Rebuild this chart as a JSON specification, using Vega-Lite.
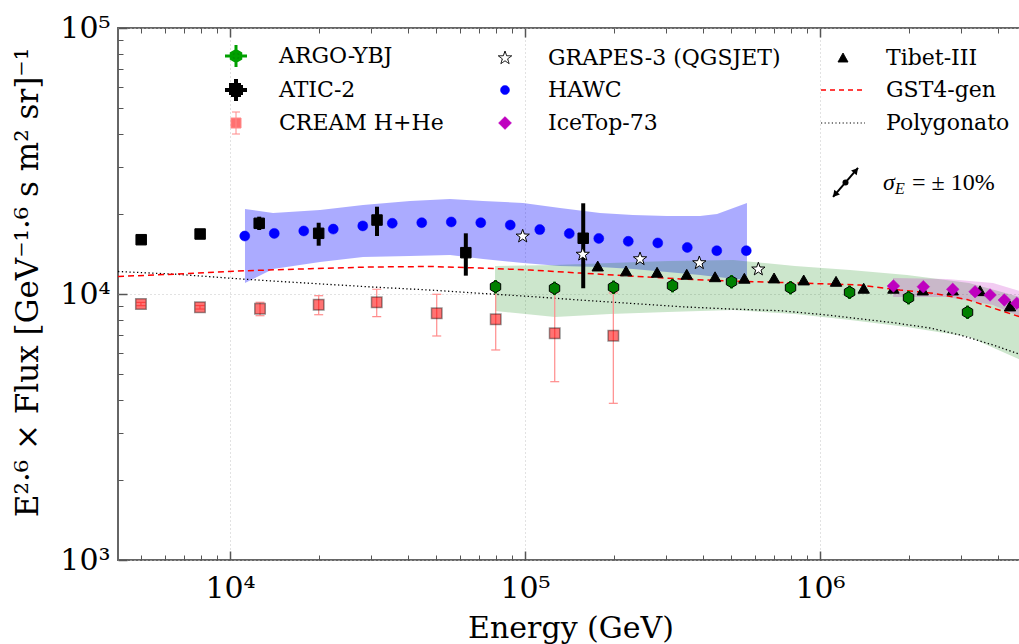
{
  "$schema": "https://vega.github.io/schema/vega-lite/v6.json",
  "autosize": {"type": "none"},
  "padding": {"left": 118, "top": 28, "right": 0, "bottom": 84},
  "width": 905,
  "height": 532,
  "background": "#ffffff",
  "config": {"view": {"stroke": "#666666", "strokeWidth": 2}, "font": "DejaVu Serif"},
  "resolve": {"axis": {"x": "independent", "y": "independent"}},
  "layer": [
    {
      "data": {"values": [
        {"E": 11240, "lo": 11000, "hi": 20870}, {"E": 13990, "lo": 12420, "hi": 20160},
        {"E": 20190, "lo": 13190, "hi": 20690}, {"E": 28240, "lo": 13770, "hi": 21610},
        {"E": 40760, "lo": 13900, "hi": 22370}, {"E": 55690, "lo": 14020, "hi": 22760},
        {"E": 72050, "lo": 13540, "hi": 22370}, {"E": 98450, "lo": 13080, "hi": 21990},
        {"E": 131450, "lo": 12740, "hi": 21050}, {"E": 179600, "lo": 12630, "hi": 20160},
        {"E": 232300, "lo": 12420, "hi": 19820}, {"E": 302900, "lo": 12100, "hi": 19640},
        {"E": 391900, "lo": 11790, "hi": 19640}, {"E": 447600, "lo": 11580, "hi": 19990},
        {"E": 565400, "lo": 11290, "hi": 21990}
      ]},
      "mark": {"type": "area", "color": "#0000ff", "fillOpacity": 0.33, "clip": true},
      "encoding": {
        "x": {"field": "E", "type": "quantitative", "scale": {"type": "log", "domain": [4172, 4875000], "nice": false},
          "axis": {"orient": "bottom", "values": [10000, 100000, 1000000],
            "labelExpr": "datum.value >= 500000 ? '10⁶' : datum.value >= 50000 ? '10⁵' : '10⁴'",
            "labelFont": "DejaVu Serif", "labelFontSize": 30, "labelColor": "#000000", "labelBaseline": "alphabetic",
            "labelPadding": 46, "labelFlush": false, "labelOverlap": false,
            "tickSize": -9, "tickColor": "#555555", "tickWidth": 1.5, "domain": false,
            "grid": true, "gridColor": "#c4c4c4", "gridDash": [1, 3], "gridWidth": 1,
            "title": "Energy (GeV)", "titleFont": "DejaVu Serif", "titleFontSize": 30, "titleFontWeight": "normal",
            "titleColor": "#000000", "titleBaseline": "alphabetic", "titleY": 77}},
        "y": {"field": "lo", "type": "quantitative", "scale": {"type": "log", "domain": [1000, 100000], "nice": false},
          "axis": {"orient": "left", "values": [1000, 10000, 100000],
            "labelExpr": "datum.value >= 50000 ? '10⁵' : datum.value >= 5000 ? '10⁴' : '10³'",
            "labelFont": "DejaVu Serif", "labelFontSize": 30, "labelColor": "#000000", "labelBaseline": "middle",
            "labelPadding": 17, "labelFlush": false, "labelOverlap": false,
            "tickSize": -9, "tickColor": "#555555", "tickWidth": 1.5, "domain": false,
            "grid": true, "gridColor": "#c4c4c4", "gridDash": [1, 3], "gridWidth": 1,
            "title": "E²·⁶ × Flux [GeV⁻¹·⁶ s m² sr]⁻¹", "titleFont": "DejaVu Serif", "titleFontSize": 31,
            "titleFontWeight": "normal", "titleColor": "#000000", "titleBaseline": "alphabetic",
            "titleX": -81, "titleY": 254}},
        "y2": {"field": "hi"}
      }
    },
    {
      "data": {"values": [
        {"E": 79120, "lo": 8633, "hi": 12740}, {"E": 126400, "lo": 8195, "hi": 12850},
        {"E": 194200, "lo": 8408, "hi": 13080}, {"E": 305200, "lo": 8556, "hi": 13310},
        {"E": 507200, "lo": 8705, "hi": 13420}, {"E": 822900, "lo": 8408, "hi": 12740},
        {"E": 1264000, "lo": 7986, "hi": 12310}, {"E": 1972000, "lo": 7515, "hi": 11790},
        {"E": 3200000, "lo": 6892, "hi": 11000}, {"E": 4875000, "lo": 5600, "hi": 9661}
      ]},
      "mark": {"type": "area", "color": "#008000", "fillOpacity": 0.2, "clip": true},
      "encoding": {
        "x": {"field": "E", "type": "quantitative", "scale": {"type": "log", "domain": [4172, 4875000], "nice": false},
          "axis": {"orient": "bottom", "values": [5000, 6000, 7000, 8000, 9000, 20000, 30000, 40000, 50000, 60000, 70000, 80000, 90000, 200000, 300000, 400000, 500000, 600000, 700000, 800000, 900000, 2000000, 3000000, 4000000],
            "labels": false, "tickSize": -5, "tickColor": "#555555", "tickWidth": 1, "domain": false, "grid": false, "title": null}},
        "y": {"field": "lo", "type": "quantitative", "scale": {"type": "log", "domain": [1000, 100000], "nice": false},
          "axis": {"orient": "left", "values": [2000, 3000, 4000, 5000, 6000, 7000, 8000, 9000, 20000, 30000, 40000, 50000, 60000, 70000, 80000, 90000],
            "labels": false, "tickSize": -5, "tickColor": "#555555", "tickWidth": 1, "domain": false, "grid": false, "title": null}},
        "y2": {"field": "hi"}
      }
    },
    {
      "data": {"values": [
        {"E": 1769000, "lo": 9743, "hi": 11490}, {"E": 2695000, "lo": 9743, "hi": 11390},
        {"E": 3858000, "lo": 9091, "hi": 11000}, {"E": 4875000, "lo": 8125, "hi": 10170}
      ]},
      "mark": {"type": "area", "color": "#bf00bf", "fillOpacity": 0.2, "clip": true},
      "encoding": {
        "x": {"field": "E", "type": "quantitative", "scale": {"type": "log", "domain": [4172, 4875000], "nice": false},
          "axis": {"orient": "top", "values": [10000, 100000, 1000000],
            "labels": false, "tickSize": -9, "tickColor": "#555555", "tickWidth": 1.5, "domain": false, "grid": false, "title": null}},
        "y": {"field": "lo", "type": "quantitative", "scale": {"type": "log", "domain": [1000, 100000], "nice": false}, "axis": null},
        "y2": {"field": "hi"}
      }
    },
    {
      "data": {"values": [
        {"E": 4173, "F": 12150}, {"E": 6612, "F": 11860}, {"E": 11240, "F": 11360}, {"E": 18670, "F": 10970},
        {"E": 31500, "F": 10600}, {"E": 47640, "F": 10350}, {"E": 70390, "F": 10060}, {"E": 103970, "F": 9786},
        {"E": 153600, "F": 9493}, {"E": 226900, "F": 9226}, {"E": 335300, "F": 8960}, {"E": 495300, "F": 8783},
        {"E": 731700, "F": 8655}, {"E": 1056000, "F": 8338}, {"E": 1769000, "F": 7802}, {"E": 2360000, "F": 7451},
        {"E": 2983000, "F": 7014}, {"E": 3858000, "F": 6432}, {"E": 4727000, "F": 5947}
      ]},
      "mark": {"type": "line", "color": "#000000", "strokeWidth": 1.3, "strokeDash": [1.3, 2.5], "clip": true},
      "encoding": {
        "x": {"field": "E", "type": "quantitative", "scale": {"type": "log", "domain": [4172, 4875000], "nice": false},
          "axis": {"orient": "top", "values": [5000, 6000, 7000, 8000, 9000, 20000, 30000, 40000, 50000, 60000, 70000, 80000, 90000, 200000, 300000, 400000, 500000, 600000, 700000, 800000, 900000, 2000000, 3000000, 4000000],
            "labels": false, "tickSize": -5, "tickColor": "#555555", "tickWidth": 1, "domain": false, "grid": false, "title": null}},
        "y": {"field": "F", "type": "quantitative", "scale": {"type": "log", "domain": [1000, 100000], "nice": false}, "axis": null}
      }
    },
    {
      "data": {"values": [
        {"E": 4173, "F": 11630}, {"E": 6612, "F": 11890}, {"E": 11240, "F": 12230}, {"E": 18670, "F": 12450},
        {"E": 29830, "F": 12630}, {"E": 47640, "F": 12690}, {"E": 70390, "F": 12520}, {"E": 103970, "F": 12310},
        {"E": 153600, "F": 11990}, {"E": 226900, "F": 11690}, {"E": 335300, "F": 11390}, {"E": 495300, "F": 11190},
        {"E": 731700, "F": 11050}, {"E": 1081000, "F": 10900}, {"E": 1366000, "F": 10810}, {"E": 1867000, "F": 10350},
        {"E": 2416000, "F": 10060}, {"E": 3150000, "F": 9535}, {"E": 3858000, "F": 8859}, {"E": 4727000, "F": 8229}
      ]},
      "mark": {"type": "line", "color": "#ff0000", "strokeWidth": 1.5, "strokeDash": [6, 4], "clip": true},
      "encoding": {
        "x": {"field": "E", "type": "quantitative", "scale": {"type": "log", "domain": [4172, 4875000], "nice": false}, "axis": null},
        "y": {"field": "F", "type": "quantitative", "scale": {"type": "log", "domain": [1000, 100000], "nice": false}, "axis": null}
      }
    },
    {
      "data": {"values": [
        {"E": 4990, "F": 9170, "lo": 9040, "hi": 9300}, {"E": 7910, "F": 8913, "lo": 8780, "hi": 9050},
        {"E": 12640, "F": 8805, "lo": 8287, "hi": 9307}, {"E": 19980, "F": 9116, "lo": 8358, "hi": 9854},
        {"E": 31430, "F": 9307, "lo": 8216, "hi": 10420}, {"E": 50200, "F": 8459, "lo": 6953, "hi": 9975},
        {"E": 79560, "F": 8033, "lo": 6160, "hi": 10620}, {"E": 126100, "F": 7118, "lo": 4681, "hi": 10170},
        {"E": 199200, "F": 6971, "lo": 3882, "hi": 10090}
      ]},
      "layer": [
        {"mark": {"type": "rule", "color": "#ff8c8c", "strokeWidth": 1.2, "clip": true},
         "encoding": {
           "x": {"field": "E", "type": "quantitative", "scale": {"type": "log", "domain": [4172, 4875000], "nice": false}, "axis": null},
           "y": {"field": "lo", "type": "quantitative", "scale": {"type": "log", "domain": [1000, 100000], "nice": false}, "axis": null},
           "y2": {"field": "hi"}}},
        {"mark": {"type": "tick", "orient": "horizontal", "color": "#ff8c8c", "size": 9, "thickness": 1.2, "opacity": 1, "clip": true},
         "encoding": {
           "x": {"field": "E", "type": "quantitative", "scale": {"type": "log", "domain": [4172, 4875000], "nice": false}, "axis": null},
           "y": {"field": "lo", "type": "quantitative", "scale": {"type": "log", "domain": [1000, 100000], "nice": false}, "axis": null}}},
        {"mark": {"type": "tick", "orient": "horizontal", "color": "#ff8c8c", "size": 9, "thickness": 1.2, "opacity": 1, "clip": true},
         "encoding": {
           "x": {"field": "E", "type": "quantitative", "scale": {"type": "log", "domain": [4172, 4875000], "nice": false}, "axis": null},
           "y": {"field": "hi", "type": "quantitative", "scale": {"type": "log", "domain": [1000, 100000], "nice": false}, "axis": null}}},
        {"mark": {"type": "point", "shape": "square", "filled": true, "fill": "#ff0000", "fillOpacity": 0.55, "stroke": "#000000", "strokeOpacity": 0.4, "strokeWidth": 1.5, "size": 110, "opacity": 1, "clip": true},
         "encoding": {
           "x": {"field": "E", "type": "quantitative", "scale": {"type": "log", "domain": [4172, 4875000], "nice": false}, "axis": null},
           "y": {"field": "F", "type": "quantitative", "scale": {"type": "log", "domain": [1000, 100000], "nice": false}, "axis": null}}}
      ]
    },
    {
      "data": {"values": [
        {"E": 5000, "F": 16000, "lo": 15700, "hi": 16300}, {"E": 7920, "F": 16810, "lo": 16450, "hi": 17180},
        {"E": 12560, "F": 18440, "lo": 17400, "hi": 19530}, {"E": 19980, "F": 16910, "lo": 15190, "hi": 18530},
        {"E": 31500, "F": 18970, "lo": 16520, "hi": 21290}, {"E": 63000, "F": 14300, "lo": 11720, "hi": 16910},
        {"E": 157500, "F": 16200, "lo": 10510, "hi": 21930}
      ]},
      "layer": [
        {"mark": {"type": "rule", "color": "#000000", "strokeWidth": 4, "clip": true},
         "encoding": {
           "x": {"field": "E", "type": "quantitative", "scale": {"type": "log", "domain": [4172, 4875000], "nice": false}, "axis": null},
           "y": {"field": "lo", "type": "quantitative", "scale": {"type": "log", "domain": [1000, 100000], "nice": false}, "axis": null},
           "y2": {"field": "hi"}}},
        {"mark": {"type": "point", "shape": "square", "filled": true, "fill": "#000000", "stroke": "#000000", "strokeWidth": 1, "size": 110, "opacity": 1, "clip": true},
         "encoding": {
           "x": {"field": "E", "type": "quantitative", "scale": {"type": "log", "domain": [4172, 4875000], "nice": false}, "axis": null},
           "y": {"field": "F", "type": "quantitative", "scale": {"type": "log", "domain": [1000, 100000], "nice": false}, "axis": null}}}
      ]
    },
    {
      "data": {"values": [
        {"E": 79430, "F": 10650, "lo": 10050, "hi": 11290}, {"E": 125900, "F": 10500, "lo": 9906, "hi": 11130},
        {"E": 199500, "F": 10600, "lo": 10000, "hi": 11240}, {"E": 316200, "F": 10750, "lo": 10140, "hi": 11400},
        {"E": 501200, "F": 11120, "lo": 10490, "hi": 11790}, {"E": 794300, "F": 10560, "lo": 9962, "hi": 11190},
        {"E": 1259000, "F": 10150, "lo": 9575, "hi": 10760}, {"E": 1995000, "F": 9685, "lo": 9137, "hi": 10270},
        {"E": 3162000, "F": 8535, "lo": 8052, "hi": 9047}
      ]},
      "layer": [
        {"mark": {"type": "rule", "color": "#00a000", "strokeWidth": 3, "clip": true},
         "encoding": {
           "x": {"field": "E", "type": "quantitative", "scale": {"type": "log", "domain": [4172, 4875000], "nice": false}, "axis": null},
           "y": {"field": "lo", "type": "quantitative", "scale": {"type": "log", "domain": [1000, 100000], "nice": false}, "axis": null},
           "y2": {"field": "hi"}}},
        {"mark": {"type": "point", "shape": "M0,-1L0.866,-0.5L0.866,0.5L0,1L-0.866,0.5L-0.866,-0.5Z", "filled": true, "fill": "#008000", "stroke": "#000000", "strokeWidth": 1, "size": 144, "opacity": 1, "clip": true},
         "encoding": {
           "x": {"field": "E", "type": "quantitative", "scale": {"type": "log", "domain": [4172, 4875000], "nice": false}, "axis": null},
           "y": {"field": "F", "type": "quantitative", "scale": {"type": "log", "domain": [1000, 100000], "nice": false}, "axis": null}}}
      ]
    },
    {
      "data": {"values": [
        {"E": 11220, "F": 16520}, {"E": 14125, "F": 16900}, {"E": 17783, "F": 17260}, {"E": 22387, "F": 17540},
        {"E": 28184, "F": 18030}, {"E": 35481, "F": 18450}, {"E": 44668, "F": 18540}, {"E": 56234, "F": 18660},
        {"E": 70795, "F": 18540}, {"E": 89125, "F": 18160}, {"E": 112202, "F": 17460}, {"E": 141254, "F": 16870},
        {"E": 177828, "F": 16180}, {"E": 223872, "F": 15780}, {"E": 281838, "F": 15560}, {"E": 354813, "F": 14960},
        {"E": 446684, "F": 14550}, {"E": 562341, "F": 14550}
      ]},
      "mark": {"type": "point", "shape": "circle", "filled": true, "fill": "#0000ff", "stroke": "#0000ff", "strokeWidth": 0.5, "size": 100, "opacity": 1, "clip": true},
      "encoding": {
        "x": {"field": "E", "type": "quantitative", "scale": {"type": "log", "domain": [4172, 4875000], "nice": false}, "axis": null},
        "y": {"field": "F", "type": "quantitative", "scale": {"type": "log", "domain": [1000, 100000], "nice": false}, "axis": null}
      }
    },
    {
      "data": {"values": [
        {"E": 98200, "F": 16480}, {"E": 156900, "F": 14080}, {"E": 245400, "F": 13540},
        {"E": 389800, "F": 13080}, {"E": 617900, "F": 12390}
      ]},
      "mark": {"type": "point", "shape": "M0,-1L0.235,-0.324L0.951,-0.309L0.38,0.124L0.588,0.809L0,0.4L-0.588,0.809L-0.38,0.124L-0.951,-0.309L-0.235,-0.324Z", "filled": true, "fill": "#ffffff", "stroke": "#000000", "strokeWidth": 1, "size": 196, "opacity": 1, "clip": true},
      "encoding": {
        "x": {"field": "E", "type": "quantitative", "scale": {"type": "log", "domain": [4172, 4875000], "nice": false}, "axis": null},
        "y": {"field": "F", "type": "quantitative", "scale": {"type": "log", "domain": [1000, 100000], "nice": false}, "axis": null}
      }
    },
    {
      "data": {"values": [
        {"E": 176400, "F": 12740}, {"E": 220000, "F": 12210}, {"E": 280300, "F": 12070}, {"E": 353300, "F": 11860},
        {"E": 440700, "F": 11610}, {"E": 553900, "F": 11460}, {"E": 698500, "F": 11490}, {"E": 880500, "F": 11290},
        {"E": 1133000, "F": 11160}, {"E": 1406000, "F": 10510}, {"E": 1773000, "F": 10510}, {"E": 2229000, "F": 10350},
        {"E": 2817000, "F": 10350}, {"E": 3486000, "F": 10290}, {"E": 4406000, "F": 9014}
      ]},
      "mark": {"type": "point", "shape": "triangle-up", "filled": true, "fill": "#000000", "stroke": "#000000", "strokeWidth": 1, "size": 130, "opacity": 1, "clip": true},
      "encoding": {
        "x": {"field": "E", "type": "quantitative", "scale": {"type": "log", "domain": [4172, 4875000], "nice": false}, "axis": null},
        "y": {"field": "F", "type": "quantitative", "scale": {"type": "log", "domain": [1000, 100000], "nice": false}, "axis": null}
      }
    },
    {
      "data": {"values": [
        {"E": 1773000, "F": 10720}, {"E": 2239000, "F": 10650}, {"E": 2817000, "F": 10410}, {"E": 3353000, "F": 10200},
        {"E": 3770000, "F": 9913}, {"E": 4214000, "F": 9493}, {"E": 4643000, "F": 9227}
      ]},
      "mark": {"type": "point", "shape": "diamond", "filled": true, "fill": "#bf00bf", "stroke": "#bf00bf", "strokeWidth": 0.5, "size": 160, "opacity": 1, "clip": true},
      "encoding": {
        "x": {"field": "E", "type": "quantitative", "scale": {"type": "log", "domain": [4172, 4875000], "nice": false}, "axis": null},
        "y": {"field": "F", "type": "quantitative", "scale": {"type": "log", "domain": [1000, 100000], "nice": false}, "axis": null}
      }
    },
    {
      "data": {"values": [{"E1": 1107000, "F1": 23170, "E2": 1345000, "F2": 29800}]},
      "mark": {"type": "rule", "color": "#000000", "strokeWidth": 2},
      "encoding": {
        "x": {"field": "E1", "type": "quantitative", "scale": {"type": "log", "domain": [4172, 4875000], "nice": false}, "axis": null},
        "x2": {"field": "E2"},
        "y": {"field": "F1", "type": "quantitative", "scale": {"type": "log", "domain": [1000, 100000], "nice": false}, "axis": null},
        "y2": {"field": "F2"}
      }
    },
    {
      "data": {"values": [{"E": 1220000, "F": 26260}]},
      "mark": {"type": "point", "shape": "circle", "filled": true, "color": "#000000", "size": 36, "opacity": 1},
      "encoding": {
        "x": {"field": "E", "type": "quantitative", "scale": {"type": "log", "domain": [4172, 4875000], "nice": false}, "axis": null},
        "y": {"field": "F", "type": "quantitative", "scale": {"type": "log", "domain": [1000, 100000], "nice": false}, "axis": null}
      }
    },
    {
      "data": {"values": [{"E": 1324000, "F": 29130}]},
      "mark": {"type": "point", "shape": "triangle-up", "angle": 41, "filled": true, "color": "#000000", "size": 55, "opacity": 1},
      "encoding": {
        "x": {"field": "E", "type": "quantitative", "scale": {"type": "log", "domain": [4172, 4875000], "nice": false}, "axis": null},
        "y": {"field": "F", "type": "quantitative", "scale": {"type": "log", "domain": [1000, 100000], "nice": false}, "axis": null}
      }
    },
    {
      "data": {"values": [{"E": 1124000, "F": 23660}]},
      "mark": {"type": "point", "shape": "triangle-down", "angle": 41, "filled": true, "color": "#000000", "size": 55, "opacity": 1},
      "encoding": {
        "x": {"field": "E", "type": "quantitative", "scale": {"type": "log", "domain": [4172, 4875000], "nice": false}, "axis": null},
        "y": {"field": "F", "type": "quantitative", "scale": {"type": "log", "domain": [1000, 100000], "nice": false}, "axis": null}
      }
    },
    {
      "data": {"values": [{"E": 1635000, "F": 24600, "sym": "σ", "sub": "E", "rest": "= ± 10%"}]},
      "layer": [
        {"mark": {"type": "text", "align": "left", "baseline": "alphabetic", "font": "Liberation Serif", "fontSize": 24, "fontStyle": "italic", "color": "#000000"},
         "encoding": {
           "x": {"field": "E", "type": "quantitative", "scale": {"type": "log", "domain": [4172, 4875000], "nice": false}, "axis": null},
           "y": {"field": "F", "type": "quantitative", "scale": {"type": "log", "domain": [1000, 100000], "nice": false}, "axis": null},
           "text": {"field": "sym"}}},
        {"mark": {"type": "text", "align": "left", "baseline": "alphabetic", "font": "Liberation Serif", "fontSize": 16, "fontStyle": "italic", "color": "#000000", "dx": 12, "dy": 4},
         "encoding": {
           "x": {"field": "E", "type": "quantitative", "scale": {"type": "log", "domain": [4172, 4875000], "nice": false}, "axis": null},
           "y": {"field": "F", "type": "quantitative", "scale": {"type": "log", "domain": [1000, 100000], "nice": false}, "axis": null},
           "text": {"field": "sub"}}},
        {"mark": {"type": "text", "align": "left", "baseline": "alphabetic", "font": "Liberation Serif", "fontSize": 24, "color": "#000000", "dx": 29},
         "encoding": {
           "x": {"field": "E", "type": "quantitative", "scale": {"type": "log", "domain": [4172, 4875000], "nice": false}, "axis": null},
           "y": {"field": "F", "type": "quantitative", "scale": {"type": "log", "domain": [1000, 100000], "nice": false}, "axis": null},
           "text": {"field": "rest"}}}
      ]
    },
    {
      "data": {"values": [
        {"series": "ARGO-YBJ"}, {"series": "ATIC-2"}, {"series": "CREAM H+He"},
        {"series": "GRAPES-3 (QGSJET)"}, {"series": "HAWC"}, {"series": "IceTop-73"},
        {"series": "Tibet-III"}, {"series": "GST4-gen"}, {"series": "Polygonato"}
      ]},
      "mark": {"type": "point", "filled": true, "opacity": 1},
      "encoding": {
        "x": {"field": "E", "type": "quantitative", "scale": {"type": "log", "domain": [4172, 4875000], "nice": false}, "axis": null},
        "y": {"field": "F", "type": "quantitative", "scale": {"type": "log", "domain": [1000, 100000], "nice": false}, "axis": null},
        "shape": {"field": "series", "type": "nominal",
          "scale": {"domain": ["ARGO-YBJ", "ATIC-2", "CREAM H+He", "GRAPES-3 (QGSJET)", "HAWC", "IceTop-73", "Tibet-III", "GST4-gen", "Polygonato"],
            "range": [
              "M-22,-14L-22,-14M22,14L22,14M-11,0L11,0M0,-11L0,11M0,-5.5L4.76,-2.75L4.76,2.75L0,5.5L-4.76,2.75L-4.76,-2.75Z",
              "M-22,-14L-22,-14M22,14L22,14M-11,0L11,0M0,-11L0,11M-5,-5L5,-5L5,5L-5,5Z",
              "M-22,-14L-22,-14M22,14L22,14M0,-11L0,11M-4,-11L4,-11M-4,11L4,11M-5,-5L5,-5L5,5L-5,5Z",
              "M-22,-14L-22,-14M22,14L22,14M0,-7L1.65,-2.27L6.66,-2.16L2.66,0.87L4.12,5.66L0,2.8L-4.12,5.66L-2.66,0.87L-6.66,-2.16L-1.65,-2.27Z",
              "M-22,-14L-22,-14M22,14L22,14M-4.5,0A4.5,4.5,0,1,0,4.5,0A4.5,4.5,0,1,0,-4.5,0Z",
              "M-22,-14L-22,-14M22,14L22,14M0,-6.5L6.5,0L0,6.5L-6.5,0Z",
              "M-22,-14L-22,-14M22,14L22,14M0,-5L5,4L-5,4Z",
              "M-22,-14L-22,-14M22,14L22,14M-22,0L22,0",
              "M-22,-14L-22,-14M22,14L22,14M-22,0L22,0"
            ]},
          "legend": {"orient": "none", "legendX": 107, "legendY": 17, "columns": 3, "title": null,
            "labelFont": "DejaVu Serif", "labelFontSize": 22, "labelColor": "#000000", "labelLimit": 400,
            "labelOffset": 32, "columnPadding": 37, "rowPadding": -8, "symbolSize": 4, "symbolOpacity": 1, "padding": 0}},
        "fill": {"field": "series", "type": "nominal",
          "scale": {"domain": ["ARGO-YBJ", "ATIC-2", "CREAM H+He", "GRAPES-3 (QGSJET)", "HAWC", "IceTop-73", "Tibet-III", "GST4-gen", "Polygonato"],
            "range": ["#008000", "#000000", "#ff7070", "#ffffff", "#0000ff", "#bf00bf", "#000000", "transparent", "transparent"]}},
        "stroke": {"field": "series", "type": "nominal",
          "scale": {"domain": ["ARGO-YBJ", "ATIC-2", "CREAM H+He", "GRAPES-3 (QGSJET)", "HAWC", "IceTop-73", "Tibet-III", "GST4-gen", "Polygonato"],
            "range": ["#00a000", "#000000", "#ff8a8a", "#000000", "#0000ff", "#bf00bf", "#000000", "#ff0000", "#000000"]}},
        "strokeWidth": {"field": "series", "type": "nominal",
          "scale": {"type": "ordinal", "domain": ["ARGO-YBJ", "ATIC-2", "CREAM H+He", "GRAPES-3 (QGSJET)", "HAWC", "IceTop-73", "Tibet-III", "GST4-gen", "Polygonato"],
            "range": [3, 4, 1, 1, 0.5, 0.5, 1, 1.5, 1.2]}},
        "strokeDash": {"field": "series", "type": "nominal",
          "scale": {"domain": ["ARGO-YBJ", "ATIC-2", "CREAM H+He", "GRAPES-3 (QGSJET)", "HAWC", "IceTop-73", "Tibet-III", "GST4-gen", "Polygonato"],
            "range": [[1, 0], [1, 0], [1, 0], [1, 0], [1, 0], [1, 0], [1, 0], [5, 4], [1.2, 2.4]]}}
      }
    }
  ]
}
